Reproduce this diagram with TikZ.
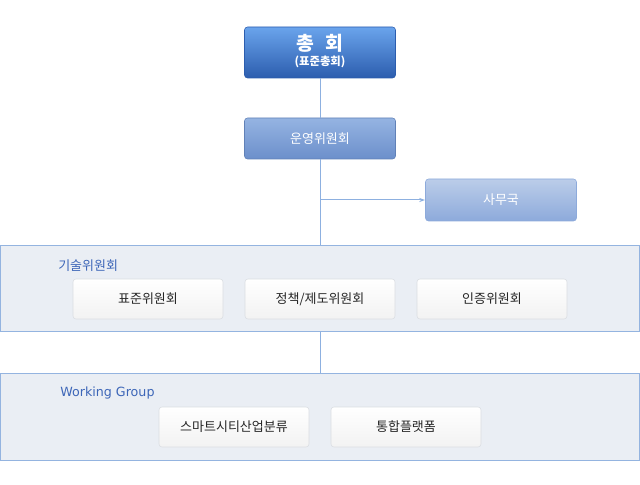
\documentclass[tikz,border=0pt]{standalone}
\usepackage{fontspec}
\setmainfont{Noto Sans CJK KR}
\newfontfamily\latinfont{DejaVu Sans}
\usetikzlibrary{arrows.meta,shadows}
\definecolor{topA}{HTML}{6AA4EC}
\definecolor{botA}{HTML}{2C5DAE}
\definecolor{topB}{HTML}{95B4E2}
\definecolor{botB}{HTML}{6C8FCB}
\definecolor{topC}{HTML}{BBCDE9}
\definecolor{botC}{HTML}{8DAADB}
\definecolor{panelfill}{HTML}{EAEEF4}
\definecolor{paneledge}{HTML}{94B4E0}
\definecolor{linec}{HTML}{8DB0E0}
\definecolor{labelc}{HTML}{3D66B8}
\definecolor{subedge}{HTML}{DADDE2}
\definecolor{txtc}{HTML}{262626}
\tikzset{
  bluebox/.style={rounded corners=2.25pt, minimum width=113.25pt, minimum height=38.25pt, inner sep=0pt, text=white, draw=botA!80!black},
  mainbox/.style={bluebox, top color=topA, bottom color=botA, draw=botA},
  midbox/.style={bluebox, minimum height=30.75pt, top color=topB, bottom color=botB, draw=botB!90!black, font=\fontsize{9.75pt}{11pt}\selectfont},
  lightbox/.style={bluebox, minimum height=31.5pt, top color=topC, bottom color=botC, draw=botC, font=\fontsize{9.75pt}{11pt}\selectfont},
  panel/.style={draw=paneledge, fill=panelfill, line width=0.75pt},
  subbox/.style={rounded corners=2.25pt, minimum width=112.5pt, minimum height=30pt, inner sep=0pt, draw=subedge, top color=white, bottom color=white!95!black, text=txtc, font=\fontsize{9.75pt}{11pt}\selectfont},
  paneltitle/.style={anchor=west, text=labelc, font=\fontsize{9.75pt}{11pt}\selectfont, inner sep=0pt},
  conn/.style={draw=linec, line width=0.75pt},
}
\begin{document}
\begin{tikzpicture}[x=0.75pt, y=-0.75pt]
\useasboundingbox (0,0) rectangle (640,485);
% panels
\draw[panel] (0.5,245.5) rectangle (639.5,331.5);
\draw[panel] (0.5,373.5) rectangle (639.5,460.5);
\node[paneltitle] (lt) at (58,266) {기술위원회};
\node[paneltitle, font=\latinfont\fontsize{9.5pt}{11pt}\selectfont] (lw) at (60,393) {Working Group};
% top boxes
\node[mainbox] (gen) at (320,52.5) {\begin{tabular}{@{}c@{}}\fontsize{14.5pt}{15pt}\selectfont\bfseries 총\hspace{0.6em}회\\[-1pt]\fontsize{8.5pt}{10pt}\selectfont\bfseries (표준총회)\end{tabular}};
\node[midbox] (op) at (320,138.5) {운영위원회};
\node[lightbox] (sec) at (501,200) {사무국};
\coordinate (top1) at (320,245);
\coordinate (br) at (320,200);
\coordinate (bot1) at (320,331.5);
\coordinate (top2) at (320,373);
\draw[conn] (gen.south) -- (op.north);
\draw[conn] (op.south) -- (top1);
\draw[conn, -{Stealth[length=4.5pt,width=3pt]}] (br) -- (sec.west);
\draw[conn] (bot1) -- (top2);
% sub boxes
\node[subbox] (s1) at (148,299) {표준위원회};
\node[subbox] (s2) at (320,299) {정책/제도위원회};
\node[subbox] (s3) at (492,299) {인증위원회};
\node[subbox] (w1) at (234,427) {스마트시티산업분류};
\node[subbox] (w2) at (406,427) {통합플랫폼};
\end{tikzpicture}
\end{document}
